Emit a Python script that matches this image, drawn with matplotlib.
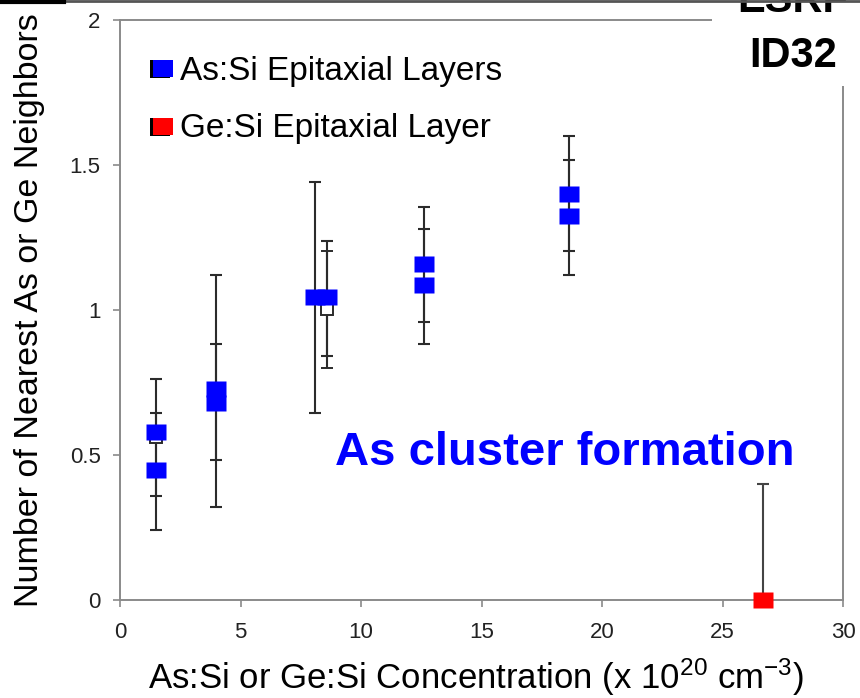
import numpy as np
import matplotlib
matplotlib.use('Agg')
import matplotlib.pyplot as plt
from matplotlib.lines import Line2D
from matplotlib.patches import Rectangle

plt.rcParams['font.family'] = ['Liberation Sans', 'DejaVu Sans']
plt.rcParams['mathtext.fontset'] = 'custom'
plt.rcParams['mathtext.rm'] = 'Liberation Sans'
plt.rcParams['mathtext.it'] = 'Liberation Sans'

# As:Si epitaxial layers (x in 1e20 cm-3, y = nearest As neighbours)
as_x = [1.5, 1.5, 4.0, 4.0, 8.1, 8.6, 12.6, 12.6, 18.65, 18.65]
as_y = [0.58, 0.45, 0.726, 0.678, 1.045, 1.045, 1.16, 1.085, 1.40, 1.324]
as_lo = [0.359, 0.241, 0.483, 0.322, 0.644, 0.841, 0.960, 0.883, 1.203, 1.121]
as_hi = [0.762, 0.645, 1.121, 0.882, 1.440, 1.238, 1.356, 1.279, 1.601, 1.517]

# open markers partly hidden behind the blue ones
open_x = [1.5, 8.6]
open_y = [0.562, 1.005]
open_lo = [0.562, 0.799]
open_hi = [0.562, 1.203]

# Ge:Si epitaxial layer
ge_x = [26.7]
ge_y = [0.0]
ge_hi = [0.40]

W, H = 860, 698
fig = plt.figure(figsize=(8.6, 6.98), dpi=100)
ax = fig.add_axes([120/W, 1 - 600/H, 723/W, 580/H])

# wide square marker like the Excel one (20 x 17 px)
rect = [(-0.6, -0.5), (0.6, -0.5), (0.6, 0.5), (-0.6, 0.5), (-0.6, -0.5)]

ecol = '#2b2b2b'
as_y = np.array(as_y)
yerr = [as_y - np.array(as_lo), np.array(as_hi) - as_y]
ax.errorbar(as_x, as_y, yerr=yerr, fmt='none', ecolor=ecol,
            elinewidth=1.5, capsize=4.5, capthick=1.5, zorder=2)
open_y = np.array(open_y)
ax.errorbar(open_x, open_y, yerr=[open_y - np.array(open_lo), np.array(open_hi) - open_y],
            fmt='s', ms=8.5, mfc='white', mec=ecol, mew=1.4,
            ecolor=ecol, elinewidth=1.5, capsize=4.5, capthick=1.5, zorder=3)
ge_y = np.array(ge_y)
ax.errorbar(ge_x, ge_y, yerr=[np.zeros(1), np.array(ge_hi) - ge_y], fmt='none',
            ecolor='#444444', elinewidth=1.5, capsize=4.5, capthick=1.5, zorder=2)

ax.plot(as_x, as_y, ls='none', marker=rect, ms=14.5, color='#0000ff', mec='none',
        zorder=4, clip_on=False)
ax.plot(ge_x, ge_y, ls='none', marker=rect, ms=14.5, color='#ff0000', mec='none',
        zorder=5, clip_on=False)

ax.set_xlim(0, 30)
ax.set_ylim(0, 2)
ax.set_xticks([0, 5, 10, 15, 20, 25, 30])
ax.set_xticklabels(['0', '5', '10', '15', '20', '25', '30'])
ax.set_yticks([0, 0.5, 1, 1.5, 2])
ax.set_yticklabels(['0', '0.5', '1', '1.5', '2'])
for s in ax.spines.values():
    s.set_color('#8a8a8a')
    s.set_linewidth(1.4)
ax.tick_params(direction='out', length=5, width=1.2, color='#8a8a8a',
               labelsize=16, labelcolor='#222222')
ax.tick_params(axis='y', pad=9)
ax.tick_params(axis='x', pad=11)

fig.text(476/W, 1 - 689/H, 'As:Si or Ge:Si Concentration (x 10$^{20}$ cm$^{-3}$)',
         fontsize=25, ha='center', va='baseline')
fig.text(30/W, 1 - 310/H, 'Number of Nearest As or Ge Neighbors', fontsize=24.5,
         rotation=90, ha='center', va='center')

# legend drawn by hand (black shadow square behind coloured square)
for ty, col, lab, base in [(68.5, '#0000ff', 'As:Si Epitaxial Layers', 80),
                           (126.5, '#ff0000', 'Ge:Si Epitaxial Layer', 137)]:
    fig.add_artist(Rectangle((150/W, 1 - (ty + 9.5)/H), 20/W, 18/H, facecolor='black',
                             edgecolor='none', zorder=6))
    fig.add_artist(Rectangle((153/W, 1 - (ty + 8.5)/H), 20/W, 17/H, facecolor=col,
                             edgecolor='none', zorder=7))
    fig.text(180/W, 1 - base/H, lab, fontsize=24, ha='left', va='baseline', zorder=7)

fig.text(335/W, 1 - 465/H, 'As cluster formation', fontsize=34, fontweight='bold',
         color='#0000ff', ha='left', va='baseline')

# white block behind the logo text hides the frame corner
fig.add_artist(Rectangle((712/W, 1 - 86/H), 148/W, 86/H, facecolor='white',
                         edgecolor='none', zorder=3))
fig.text(793/W, 1 - 67/H, 'ID32', fontsize=30, fontweight='bold', ha='center',
         va='baseline', zorder=4)
fig.text(793/W, 1 - 12/H, 'ESRF', fontsize=30, fontweight='bold', ha='center',
         va='baseline', zorder=4)

fig.add_artist(Line2D([0, 1], [1 - 1/H, 1 - 1/H], color='#555555', lw=2, zorder=8))
fig.add_artist(Line2D([0, 64/W], [1 - 1.5/H, 1 - 1.5/H], color='black', lw=3, zorder=8))

fig.savefig('out.png', dpi=100)
